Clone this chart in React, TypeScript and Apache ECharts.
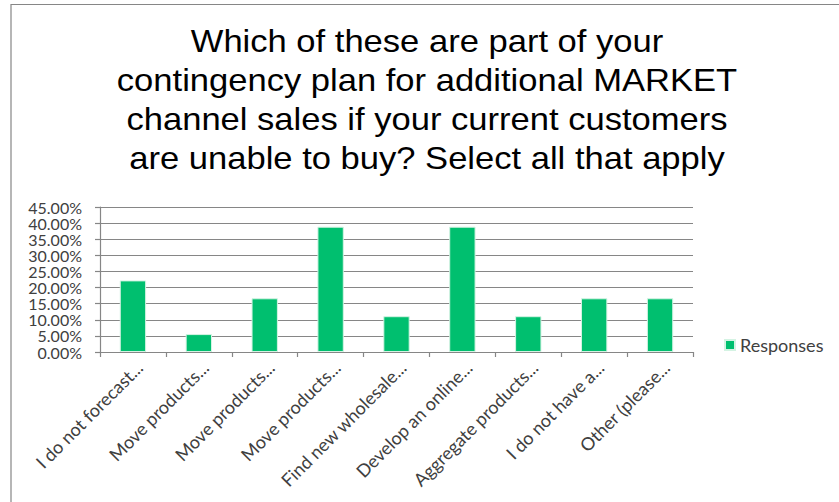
import React, { useEffect, useRef } from "react";
import * as echarts from "echarts";

const titleLines = [
  "Which of these are part of your",
  "contingency plan for additional MARKET",
  "channel sales if your current customers",
  "are unable to buy? Select all that apply",
];

const categories = [
  "I do not forecast...",
  "Move products...",
  "Move products...",
  "Move products...",
  "Find new wholesale...",
  "Develop an online...",
  "Aggregate products...",
  "I do not have a...",
  "Other (please...",
];

const responses = [0.2222, 0.0556, 0.1667, 0.3889, 0.1111, 0.3889, 0.1111, 0.1667, 0.1667];

const seriesName = "Responses";

export default function App() {
  const ref = useRef<HTMLDivElement>(null);
  useEffect(() => {
    if (!ref.current) return;
    const chart = echarts.init(ref.current, null, { renderer: "svg" });
    const axisGray = "#868686";
    const labelColor = "#404040";
    const labelFont = "Lato, 'Open Sans', sans-serif";
    chart.setOption({
      animation: false,
      backgroundColor: "#ffffff",
      graphic: [
        {
          type: "rect",
          shape: { x: 11, y: 4.5, width: 900, height: 600 },
          style: { fill: "none", stroke: axisGray, lineWidth: 1.2 },
          silent: true,
        },
        {
          type: "text",
          x: 427,
          y: 21,
          scaleX: 1.08,
          style: {
            text: titleLines.join("\n"),
            fontFamily: "'Liberation Sans', Arial, sans-serif",
            fontSize: 32,
            lineHeight: 39,
            fill: "#000000",
            align: "center",
            verticalAlign: "top",
          },
        },
      ],
      legend: {
        show: true,
        data: [seriesName],
        left: 719,
        top: 331,
        icon: "rect",
        itemWidth: 10,
        itemHeight: 10,
        textStyle: { fontFamily: labelFont, fontSize: 18, color: labelColor },
      },
      grid: { left: 100, right: 146, top: 207, bottom: 150, containLabel: false },
      xAxis: {
        type: "category",
        data: categories,
        axisLine: { show: true, lineStyle: { color: axisGray, width: 1.2 } },
        axisTick: { show: true, length: 5, lineStyle: { color: axisGray, width: 1.2 } },
        axisLabel: {
          interval: 0,
          rotate: 45,
          margin: 6,
          verticalAlign: "top",
          fontFamily: labelFont,
          fontSize: 18,
          color: labelColor,
        },
      },
      yAxis: {
        type: "value",
        min: 0,
        max: 0.45,
        interval: 0.05,
        axisLine: { show: true, lineStyle: { color: axisGray, width: 1.2 } },
        axisTick: { show: true, length: 5, lineStyle: { color: axisGray, width: 1.2 } },
        splitLine: { show: true, lineStyle: { color: axisGray, width: 1.2 } },
        axisLabel: {
          margin: 18,
          showMinLabel: true,
          showMaxLabel: true,
          hideOverlap: false,
          fontFamily: labelFont,
          fontSize: 16,
          lineHeight: 16,
          color: labelColor,
          formatter: (v: number) => (v * 100).toFixed(2) + "%",
        },
      },
      series: [
        {
          name: seriesName,
          type: "bar",
          data: responses,
          barWidth: "40%",
          itemStyle: { color: "#00bf6f", borderColor: "#d4f3e3", borderWidth: 1 },
        },
      ],
    });
    return () => chart.dispose();
  }, []);
  return (
    <div
      ref={ref}
      style={{ position: "fixed", left: 0, top: 0, width: 839, height: 502 }}
    />
  );
}
